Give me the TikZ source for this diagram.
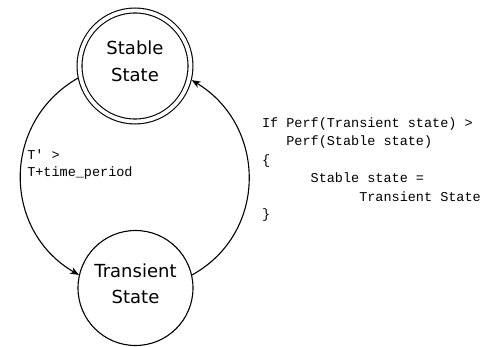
\documentclass[tikz,border=0pt]{standalone}
\usepackage{fontspec}
\setmainfont{DejaVu Sans}
\newfontfamily\codefont{Liberation Mono}
\usetikzlibrary{arrows.meta}
\begin{document}
\begin{tikzpicture}[x=1pt,y=-1pt,
  line width=1.1pt,
  state/.style={circle, draw, minimum size=#1, inner sep=0pt},
  statetext/.style={font=\fontsize{18}{26.5}\selectfont, align=center, inner sep=0pt},
  code/.style={font=\codefont\fontsize{13.5}{18}\selectfont, anchor=base west, inner sep=0pt},
  trans/.style={-{Stealth[length=9pt,width=7pt]}, looseness=1.15}]
\useasboundingbox (0,0) rectangle (485,347);

% the two states: the stable one is an accepting (double) circle
\node[state=111pt, double, double distance=3.8pt, outer sep=3pt] (S) at (135,66) {};
\node[state=115pt] (T) at (135.5,288) {};
\node[statetext] (Slabel) at (135,61.4) {Stable\\State};
\node[statetext] (Tlabel) at (135.5,284) {Transient\\State};

% transitions
\draw[trans] (S.192) to[out=210, in=150] (T.167.5);
\draw[trans] (T.13) to[out=29, in=329] (S.346.7);

% guard on the left transition
\node[code] (g1) at (26.7,159.3) {T' >};
\node[code] (g2) at (26.7,176.7) {T+time\_period};

% rule on the right transition
\node[code] (r1) at (261.5,128)   {If Perf(Transient state) >};
\node[code] (r2) at (285.8,146)   {Perf(Stable state)};
\node[code] (r3) at (261.5,164.5) {\{};
\node[code] (r4) at (310.1,183)   {Stable state =};
\node[code] (r5) at (358.7,201.5) {Transient State};
\node[code] (r6) at (261.5,219)   {\}};
\end{tikzpicture}
\end{document}
